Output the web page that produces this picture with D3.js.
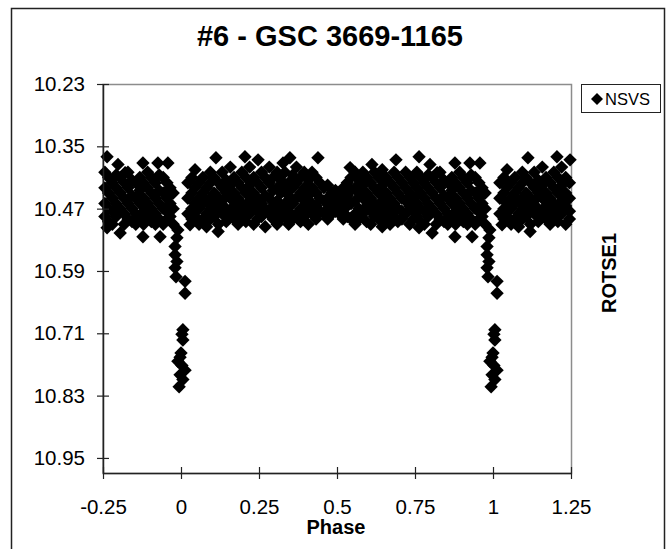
<!DOCTYPE html>
<html>
<head>
<meta charset="utf-8">
<script src="https://cdn.jsdelivr.net/npm/d3@7"></script>
<style>
  html, body { margin: 0; padding: 0; background: #fff; }
  svg { display: block; }
  text { font-family: "Liberation Sans", Arial, sans-serif; fill: #000; }
</style>
</head>
<body>
<svg id="chart" width="672" height="549"></svg>
<script>
// ---------------- data ----------------
const chartTitle = "#6 - GSC 3669-1165";
const seriesName = "NSVS";
const xTitle = "Phase";
const yTitle = "ROTSE1";
const xTickValues = [-0.25, 0, 0.25, 0.5, 0.75, 1, 1.25];
const xTickLabels = ["-0.25", "0", "0.25", "0.5", "0.75", "1", "1.25"];
const yTickValues = [10.23, 10.35, 10.47, 10.59, 10.71, 10.83, 10.95];
const yTickLabels = ["10.23", "10.35", "10.47", "10.59", "10.71", "10.83", "10.95"];
const xDomain = [-0.25, 1.25];
const yDomain = [10.23, 10.979];

// base observations: [phase (0..1), magnitude]
const nsvsPoints = [
  // egress of primary eclipse
  [0.003,10.712],[0.006,10.703],[0.006,10.723],[0.000,10.748],[0.003,10.772],[0.013,10.781],[0.006,10.799],
  [0.013,10.610],[0.013,10.633],
  // out-of-eclipse band
  [0.022,10.42],[0.022,10.45],[0.022,10.48],[0.029,10.501],
  [0.035,10.41],[0.035,10.44],[0.035,10.47],[0.035,10.49],
  [0.045,10.395],[0.045,10.43],[0.045,10.46],[0.045,10.485],
  [0.058,10.42],[0.058,10.45],[0.058,10.47],[0.058,10.50],
  [0.070,10.41],[0.070,10.44],[0.070,10.46],[0.070,10.49],
  [0.082,10.43],[0.082,10.455],[0.082,10.48],[0.082,10.505],
  [0.094,10.40],[0.094,10.42],[0.094,10.45],[0.094,10.47],[0.094,10.49],
  [0.106,10.41],[0.106,10.44],[0.106,10.46],[0.106,10.485],
  [0.112,10.372],[0.119,10.514],
  [0.120,10.42],[0.120,10.45],[0.120,10.47],[0.120,10.50],
  [0.132,10.40],[0.132,10.43],[0.132,10.455],[0.132,10.48],
  [0.145,10.415],[0.145,10.44],[0.145,10.47],[0.145,10.495],
  [0.158,10.39],[0.158,10.425],[0.158,10.45],[0.158,10.48],
  [0.170,10.41],[0.170,10.44],[0.170,10.465],[0.170,10.49],
  [0.183,10.42],[0.183,10.45],[0.183,10.475],[0.183,10.50],
  [0.195,10.40],[0.195,10.43],[0.195,10.46],[0.195,10.485],
  [0.205,10.370],
  [0.208,10.41],[0.208,10.44],[0.208,10.47],[0.208,10.495],
  [0.220,10.39],[0.220,10.425],[0.220,10.455],[0.220,10.48],
  [0.233,10.41],[0.233,10.44],[0.233,10.465],[0.233,10.50],
  [0.247,10.376],
  [0.245,10.42],[0.245,10.45],[0.245,10.475],[0.245,10.49],
  [0.258,10.40],[0.258,10.43],[0.258,10.46],[0.258,10.485],
  [0.270,10.41],[0.270,10.445],[0.270,10.47],[0.270,10.505],
  [0.283,10.39],[0.283,10.42],[0.283,10.45],[0.283,10.48],
  [0.295,10.41],[0.295,10.435],[0.295,10.465],[0.295,10.49],
  [0.308,10.40],[0.308,10.43],[0.308,10.455],[0.308,10.48],[0.308,10.50],
  [0.320,10.415],[0.320,10.44],[0.320,10.47],[0.320,10.49],
  [0.327,10.382],
  [0.333,10.40],[0.333,10.43],[0.333,10.46],[0.333,10.485],
  [0.345,10.42],[0.345,10.445],[0.345,10.475],[0.345,10.50],
  [0.349,10.372],
  [0.358,10.405],[0.358,10.43],[0.358,10.46],[0.358,10.49],
  [0.370,10.39],[0.370,10.42],[0.370,10.45],[0.370,10.48],
  [0.383,10.41],[0.383,10.44],[0.383,10.47],[0.383,10.495],
  [0.395,10.40],[0.395,10.43],[0.395,10.455],[0.395,10.485],
  [0.408,10.415],[0.408,10.445],[0.408,10.47],[0.408,10.50],
  [0.420,10.40],[0.420,10.43],[0.420,10.46],[0.420,10.48],
  [0.433,10.41],[0.433,10.44],[0.433,10.465],[0.433,10.49],
  [0.439,10.372],
  [0.445,10.42],[0.445,10.45],[0.445,10.475],
  [0.458,10.43],[0.458,10.455],[0.458,10.48],
  [0.470,10.425],[0.470,10.45],[0.470,10.47],[0.470,10.49],
  [0.483,10.44],[0.483,10.46],[0.483,10.48],
  [0.495,10.435],[0.495,10.455],[0.495,10.475],
  [0.508,10.445],[0.508,10.465],[0.508,10.48],
  [0.520,10.43],[0.520,10.45],[0.520,10.47],[0.520,10.49],
  [0.533,10.42],[0.533,10.445],[0.533,10.465],[0.533,10.485],
  [0.542,10.391],
  [0.545,10.41],[0.545,10.435],[0.545,10.46],[0.545,10.49],
  [0.558,10.40],[0.558,10.43],[0.558,10.455],[0.558,10.48],[0.558,10.50],
  [0.570,10.415],[0.570,10.44],[0.570,10.47],[0.570,10.49],
  [0.583,10.40],[0.583,10.425],[0.583,10.45],[0.583,10.48],
  [0.595,10.41],[0.595,10.44],[0.595,10.465],[0.595,10.495],
  [0.608,10.42],[0.608,10.45],[0.608,10.475],[0.608,10.50],
  [0.612,10.385],
  [0.620,10.40],[0.620,10.43],[0.620,10.46],[0.620,10.485],
  [0.633,10.41],[0.633,10.44],[0.633,10.47],[0.633,10.49],
  [0.645,10.395],[0.645,10.425],[0.645,10.455],[0.645,10.48],[0.645,10.505],
  [0.658,10.41],[0.658,10.44],[0.658,10.465],[0.658,10.49],
  [0.670,10.42],[0.670,10.45],[0.670,10.475],[0.670,10.50],
  [0.683,10.40],[0.683,10.43],[0.683,10.46],[0.683,10.485],
  [0.689,10.376],
  [0.695,10.41],[0.695,10.44],[0.695,10.47],[0.695,10.495],
  [0.708,10.42],[0.708,10.45],[0.708,10.475],[0.708,10.49],
  [0.720,10.40],[0.720,10.43],[0.720,10.455],[0.720,10.48],
  [0.733,10.41],[0.733,10.44],[0.733,10.465],[0.733,10.50],
  [0.745,10.42],[0.745,10.45],[0.745,10.475],[0.745,10.49],
  [0.756,10.40],[0.756,10.43],[0.756,10.46],[0.756,10.485],
  [0.763,10.370],[0.763,10.507],
  [0.768,10.41],[0.768,10.44],[0.768,10.47],[0.768,10.495],
  [0.780,10.42],[0.780,10.45],[0.780,10.475],[0.780,10.50],
  [0.792,10.405],[0.792,10.43],[0.792,10.46],[0.792,10.485],
  [0.798,10.385],
  [0.805,10.41],[0.805,10.44],[0.805,10.47],[0.805,10.517],
  [0.818,10.42],[0.818,10.45],[0.818,10.48],[0.818,10.50],
  [0.821,10.401],
  [0.830,10.40],[0.830,10.43],[0.830,10.46],[0.830,10.49],
  [0.843,10.415],[0.843,10.445],[0.843,10.47],[0.843,10.495],
  [0.855,10.42],[0.855,10.45],[0.855,10.48],[0.855,10.50],
  [0.868,10.41],[0.868,10.435],[0.868,10.46],[0.868,10.49],
  [0.878,10.382],[0.878,10.524],
  [0.880,10.42],[0.880,10.45],[0.880,10.475],[0.880,10.50],
  [0.893,10.40],[0.893,10.43],[0.893,10.46],[0.893,10.485],
  [0.905,10.41],[0.905,10.44],[0.905,10.47],[0.905,10.495],
  [0.918,10.42],[0.918,10.45],[0.918,10.48],[0.918,10.50],
  [0.926,10.382],
  [0.930,10.405],[0.930,10.435],[0.930,10.46],[0.930,10.49],
  [0.933,10.524],
  [0.943,10.41],[0.943,10.44],[0.943,10.47],[0.943,10.50],
  [0.955,10.42],[0.955,10.45],[0.955,10.475],[0.955,10.49],
  [0.958,10.382],
  [0.965,10.43],[0.965,10.46],[0.965,10.485],
  [0.975,10.44],[0.975,10.47],[0.975,10.50],
  // ingress of primary eclipse
  [0.987,10.526],[0.990,10.511],
  [0.981,10.543],[0.981,10.559],[0.987,10.572],[0.981,10.584],[0.984,10.601],
  [0.990,10.764],[0.997,10.756],[0.997,10.790],[0.994,10.813]
];

// phase-folded plot shows the cycle from -0.25 to 1.25 (wrapped copies)
const plotted = [];
nsvsPoints.forEach(([p, m]) => {
  plotted.push([p, m]);
  if (p >= 0.75) plotted.push([p - 1, m]);
  if (p < 0.25) plotted.push([p + 1, m]);
});

// ---------------- layout ----------------
const svg = d3.select("#chart");
const plot = { left: 103, right: 571, top: 84, bottom: 473 };

const x = d3.scaleLinear().domain(xDomain).range([plot.left, plot.right]);
const y = d3.scaleLinear().domain(yDomain).range([plot.top, plot.bottom]);

// outer chart frame
svg.append("rect")
  .attr("x", 11.5).attr("y", 8.5)
  .attr("width", 653).attr("height", 560)
  .attr("fill", "#fff").attr("stroke", "#222").attr("stroke-width", 1.5);

// plot area border (grey)
svg.append("rect")
  .attr("x", plot.left).attr("y", plot.top + 0.5)
  .attr("width", plot.right - plot.left + 0.5).attr("height", plot.bottom - plot.top)
  .attr("fill", "none").attr("stroke", "#8c8c8c").attr("stroke-width", 1.5);

// title
svg.append("text")
  .attr("x", 330).attr("y", 46)
  .attr("text-anchor", "middle")
  .style("font-size", "29px").style("font-weight", "bold")
  .text(chartTitle);

// points
const r = 6.7;
const diamond = `M0,${-r}L${r},0L0,${r}L${-r},0Z`;
svg.append("g")
  .selectAll("path")
  .data(plotted)
  .join("path")
  .attr("d", diamond)
  .attr("transform", d => `translate(${x(d[0])},${y(d[1])})`)
  .attr("fill", "#000");

// axes
const yAxis = d3.axisLeft(y)
  .tickValues(yTickValues)
  .tickFormat((d, i) => yTickLabels[i])
  .tickSizeInner(6).tickSizeOuter(0).tickPadding(11);
const gy = svg.append("g").attr("transform", `translate(${plot.left},0)`).call(yAxis);
gy.select(".domain").attr("stroke", "#222").attr("stroke-width", 1.5);
gy.selectAll(".tick line").attr("x1", -6).attr("x2", 6).attr("stroke", "#222").attr("stroke-width", 1.2);
gy.selectAll(".tick text")
  .attr("x", -18)
  .style("font-size", "20.5px").style("font-family", "'Liberation Sans', Arial, sans-serif").attr("fill", "#000");

const xAxis = d3.axisBottom(x)
  .tickValues(xTickValues)
  .tickFormat((d, i) => xTickLabels[i])
  .tickSizeInner(6).tickSizeOuter(0).tickPadding(20);
const gx = svg.append("g").attr("transform", `translate(0,${plot.bottom})`).call(xAxis);
gx.select(".domain").attr("stroke", "#222").attr("stroke-width", 1.5);
gx.selectAll(".tick line").attr("y1", -6).attr("y2", 6).attr("stroke", "#222").attr("stroke-width", 1.2);
gx.selectAll(".tick text")
  .attr("dy", "0.71em")
  .style("font-size", "20.5px").style("font-family", "'Liberation Sans', Arial, sans-serif").attr("fill", "#000");

// axis titles
svg.append("text")
  .attr("x", 336).attr("y", 534)
  .attr("text-anchor", "middle")
  .style("font-size", "20px").style("font-weight", "bold")
  .text(xTitle);

svg.append("text")
  .attr("transform", "translate(616,273) rotate(-90)")
  .attr("text-anchor", "middle")
  .style("font-size", "20px").style("font-weight", "bold")
  .text(yTitle);

// legend
const lg = svg.append("g");
lg.append("rect")
  .attr("x", 581.5).attr("y", 84.5).attr("width", 79).attr("height", 28)
  .attr("fill", "#fff").attr("stroke", "#222").attr("stroke-width", 1);
lg.append("path")
  .attr("d", `M0,-6L6,0L0,6L-6,0Z`)
  .attr("transform", "translate(597,99)")
  .attr("fill", "#000");
lg.append("text")
  .attr("x", 605).attr("y", 105)
  .style("font-size", "16.5px")
  .text(seriesName);
</script>
</body>
</html>
